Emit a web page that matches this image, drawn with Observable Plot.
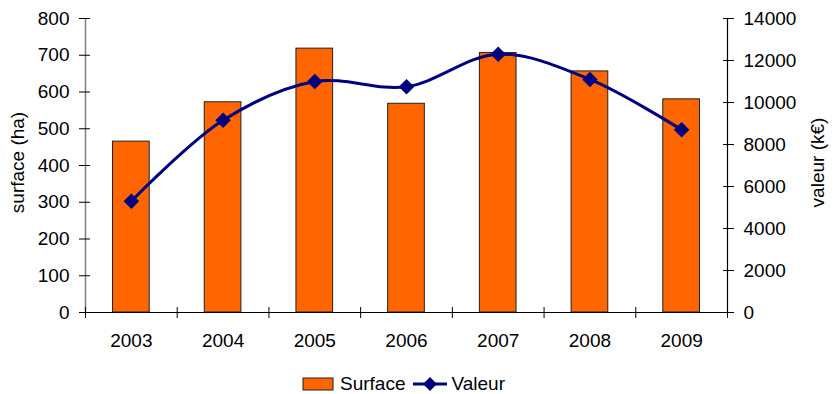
<!DOCTYPE html>
<html>
<head>
<meta charset="utf-8">
<script src="https://cdn.jsdelivr.net/npm/d3@7"></script>
<script src="https://cdn.jsdelivr.net/npm/@observablehq/plot@0.6"></script>
<style>
  body { margin: 0; background: white; font-family: "Liberation Sans", Arial, sans-serif; }
  #legend { display: flex; align-items: center; margin-left: 302px; margin-top: 4px; font-size: 19px; height: 29px; color: #000; }
  .item { display: flex; align-items: center; margin-right: 6px; }
</style>
</head>
<body>
<div id="chart"></div>
<div id="legend"></div>
<script>
const years = ["2003", "2004", "2005", "2006", "2007", "2008", "2009"];
const surface = [465, 572, 718, 568, 706, 656, 580];
const valeur = [5300, 9150, 11000, 10750, 12300, 11100, 8700];
const leftTicks = [0, 100, 200, 300, 400, 500, 600, 700, 800];
const rightTicks = [0, 2000, 4000, 6000, 8000, 10000, 12000, 14000];
const seriesNames = ["Surface", "Valeur"];
const k = 800 / 14000;

const data = years.map((y, i) => ({i, year: y, surface: surface[i], valeur: valeur[i]}));
const bounds = d3.range(years.length + 1).map(i => i - 0.5);

const chart = Plot.plot({
  width: 837,
  height: 365,
  marginLeft: 85,
  marginRight: 110,
  marginTop: 18,
  marginBottom: 53,
  x: {type: "linear", domain: [-0.5, years.length - 0.5], axis: null},
  y: {domain: [0, 800], axis: null},
  style: {fontFamily: "'Liberation Sans', Arial, sans-serif", fontSize: "19px", color: "#000", background: "white"},
  marks: [
    Plot.rectY(data, {x1: d => d.i - 0.2, x2: d => d.i + 0.2, y: "surface", fill: "#FF6600", stroke: "#222", strokeWidth: 1}),
    Plot.line(data, {x: "i", y: d => d.valeur * k, stroke: "#000080", strokeWidth: 3, curve: "catmull-rom"}),
    Plot.dot(data, {x: "i", y: d => d.valeur * k, symbol: "diamond2", fill: "#000080", stroke: null, r: 7}),
    Plot.ruleY([0], {stroke: "#000", strokeWidth: 1.2}),
    Plot.ruleX([-0.5], {y1: 0, y2: 800, stroke: "#808080", strokeWidth: 1.5}),
    Plot.ruleX([years.length - 0.5], {y1: 0, y2: 800, stroke: "#000", strokeWidth: 1.2}),
    Plot.axisY(leftTicks, {anchor: "left", tickSize: 11, dx: 5, tickFormat: () => "", label: null}),
    Plot.axisY(leftTicks, {anchor: "left", tickSize: 0, tickPadding: 16, label: null}),
    Plot.axisY(rightTicks.map(t => t * k), {anchor: "right", tickSize: 11, dx: -5, tickFormat: () => "", label: null}),
    Plot.axisY(rightTicks.map(t => t * k), {anchor: "right", tickSize: 0, tickPadding: 16, tickFormat: d => String(Math.round(d / k)), label: null}),
    Plot.axisX(bounds, {anchor: "bottom", tickSize: 11, dy: -5, tickFormat: () => "", label: null}),
    Plot.axisX(d3.range(years.length), {anchor: "bottom", tickSize: 0, tickPadding: 21, tickFormat: i => years[i], label: null}),
    Plot.text(["surface (ha)"], {frameAnchor: "left", textAnchor: "middle", dx: -68, dy: -3, rotate: -90, fontSize: 19}),
    Plot.text(["valeur (k€)"], {frameAnchor: "right", textAnchor: "middle", dx: 90, dy: -3, rotate: -90, fontSize: 19})
  ]
});
document.getElementById("chart").appendChild(chart);

const legend = document.getElementById("legend");
legend.innerHTML = `
  <div class="item"><svg width="38" height="16"><rect x="1" y="2" width="30" height="12" fill="#FF6600" stroke="#222"/></svg><span>${seriesNames[0]}</span></div>
  <div class="item"><svg width="40" height="16"><line x1="2" y1="8" x2="36" y2="8" stroke="#000080" stroke-width="3"/><path d="M19,1 L26,8 L19,15 L12,8 Z" fill="#000080"/></svg><span>${seriesNames[1]}</span></div>
`;
</script>
</body>
</html>
